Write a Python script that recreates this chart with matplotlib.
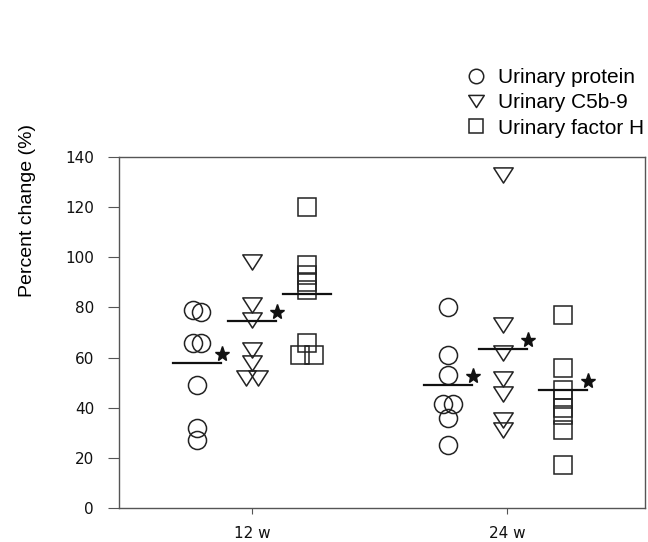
import numpy as np
import matplotlib
matplotlib.use("Agg")
import matplotlib.pyplot as plt
from matplotlib.path import Path

# ---- data ----
groups = ["12 w", "24 w"]
group_pos = [1, 2]
series_names = ["Urinary protein", "Urinary C5b-9", "Urinary factor H"]

protein_12 = [79, 78, 66, 66, 49, 32, 27]
c5b9_12 = [98, 81, 75, 63, 58, 52, 52]
factorh_12 = [120, 97, 93, 90, 87, 66, 61, 61]

protein_24 = [80, 61, 53, 41.5, 41.5, 36, 25]
c5b9_24 = [133, 73, 62, 51.5, 45.5, 35, 31]
factorh_24 = [77, 56, 47, 43.5, 40, 37, 31, 17]

# group summary lines (horizontal bars) and significance
line_12 = [58, 74.5, 85.5]
line_24 = [49, 63.5, 47]
signif_12 = [True, True, False]
signif_24 = [True, True, True]

y_ticks = [0, 20, 40, 60, 80, 100, 120, 140]

# ---- layout (positions only) ----
PX = 255.0  # pixels per x-unit
series_off = [-55 / PX, 0.0, 55 / PX]
jit_p12 = [-4, 4, -4, 4, 0, 0, 0]
jit_c12 = [0, 0, 0, 0, 0, -6, 6]
jit_f12 = [0, 0, 0, 0, 0, 0, -7, 7]
jit_p24 = [0, 0, 0, -5, 5, 0, 0]
jit_c24 = [0, 0, 0, 0, 0, 0, 0]
jit_f24 = [0, 0, 0, 0, 0, 0, 0, 0]
col_shift_24 = [-59 / PX + 55 / PX, -4 / PX, 1 / PX]

tri_down = Path([(-1, 0.78), (1, 0.78), (0, -0.78), (-1, 0.78)],
                [Path.MOVETO, Path.LINETO, Path.LINETO, Path.CLOSEPOLY])
markers = ["o", tri_down, "s"]
msizes = [13, 14, 12.5]

W, H = 648, 542
fig = plt.figure(figsize=(W / 100, H / 100), dpi=100)
ax = fig.add_axes([119 / W, 1 - 508 / H, (645 - 119) / W, (508 - 157) / H])

data12 = [protein_12, c5b9_12, factorh_12]
data24 = [protein_24, c5b9_24, factorh_24]
jit12 = [jit_p12, jit_c12, jit_f12]
jit24 = [jit_p24, jit_c24, jit_f24]

handles = []
for s in range(3):
    x12 = group_pos[0] + series_off[s] + np.array(jit12[s]) / PX
    x24 = group_pos[1] + series_off[s] + col_shift_24[s] + np.array(jit24[s]) / PX
    h, = ax.plot(x12, data12[s], linestyle="none", marker=markers[s],
                 ms=msizes[s], mfc="none", mec="#222222", mew=1.1,
                 label=series_names[s], clip_on=False)
    ax.plot(x24, data24[s], linestyle="none", marker=markers[s],
            ms=msizes[s], mfc="none", mec="#222222", mew=1.1, clip_on=False)
    handles.append(h)

half = 24 / PX
for gi, (lines, sig) in enumerate([(line_12, signif_12), (line_24, signif_24)]):
    for s in range(3):
        xc = group_pos[gi] + series_off[s] + (col_shift_24[s] if gi == 1 else 0)
        ax.plot([xc - half, xc + half], [lines[s], lines[s]], color="#111111", lw=1.6)
        if sig[s]:
            ax.plot([xc + half + 1 / PX], [lines[s] + 3.6], marker="*",
                    ms=11, color="#111111", mec="#111111", linestyle="none")

ax.set_xlim(1 - 133 / PX, 2 + 138 / PX)
ax.set_ylim(0, 140)
ax.set_yticks(y_ticks)
ax.set_xticks(group_pos)
ax.set_xticklabels(groups)
for sp in ax.spines.values():
    sp.set_color("#555555")
    sp.set_linewidth(1.0)
ax.tick_params(axis="y", direction="out", length=8, width=0.8, pad=10,
               labelsize=11, colors="#555555", labelcolor="#111111")
ax.tick_params(axis="x", direction="out", length=4, width=0.8, pad=9,
               labelsize=11, colors="#555555", labelcolor="#111111")

fig.text(28 / W, 1 - 210 / H, "Percent change (%)", rotation=90,
         ha="center", va="center", fontsize=14, family="Liberation Sans")

leg = fig.legend(handles=handles, labels=series_names, loc="upper left",
                 bbox_to_anchor=(466 / W, 1 - 68 / H), frameon=False,
                 markerscale=0.8, handlelength=1.0, handletextpad=0.55,
                 labelspacing=0.3, borderpad=0, borderaxespad=0,
                 prop={"family": "Liberation Sans", "size": 15})

fig.savefig("out.png", dpi=100)
